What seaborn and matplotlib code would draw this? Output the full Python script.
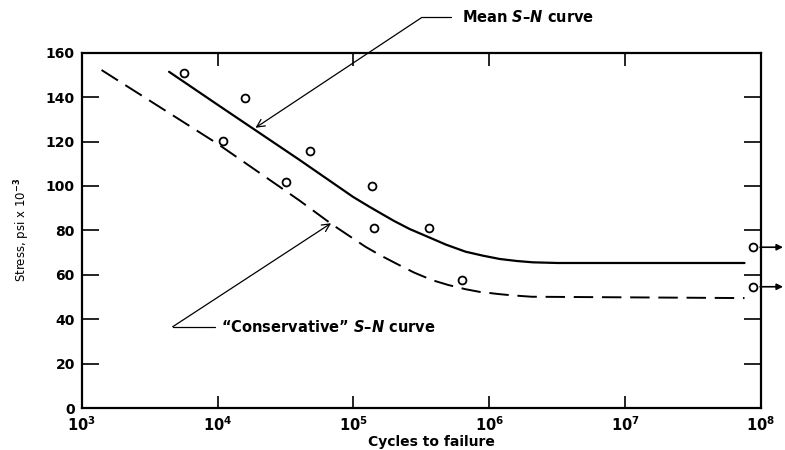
import matplotlib
matplotlib.use("Agg")
import matplotlib.pyplot as plt
import seaborn as sns
from matplotlib.ticker import FixedLocator, FixedFormatter, NullLocator

# ---- data ----
mean_cycles = [4.4e3, 1.0e4, 4.0e4, 1.0e5, 1.3e5, 1.6e5, 2.0e5, 2.6e5, 3.6e5, 4.8e5,
               6.7e5, 9.0e5, 1.2e6, 1.6e6, 2.1e6, 3.2e6, 7.6e7]
mean_stress = [151.4, 136.6, 111.8, 95.0, 90.8, 87.6, 84.2, 80.6, 76.9, 73.6,
               70.4, 68.6, 67.1, 66.2, 65.6, 65.3, 65.3]

cons_cycles = [1.4e3, 1.0e4, 4.0e4, 7.0e4, 1.23e5, 1.6e5, 2.17e5, 2.8e5, 3.8e5, 5.0e5,
               6.7e5, 8.5e5, 1.18e6, 1.5e6, 2.06e6, 7.6e7]
cons_stress = [152.2, 119.0, 93.5, 82.6, 72.6, 68.6, 64.4, 61.0, 57.6, 55.4,
               53.5, 52.3, 51.3, 50.7, 50.1, 49.5]

test_cycles = [5.7e3, 1.1e4, 1.6e4, 3.2e4, 4.8e4, 1.37e5, 1.42e5, 3.6e5, 6.3e5]
test_stress = [150.7, 120.4, 139.7, 101.9, 115.9, 100.1, 80.9, 81.2, 57.6]

runout_cycles = [8.8e7, 8.8e7]
runout_stress = [72.4, 54.6]

x_ticks = [1e3, 1e4, 1e5, 1e6, 1e7, 1e8]
x_tick_labels = [r"$\mathbf{10^{3}}$", r"$\mathbf{10^{4}}$", r"$\mathbf{10^{5}}$",
                 r"$\mathbf{10^{6}}$", r"$\mathbf{10^{7}}$", r"$\mathbf{10^{8}}$"]
y_ticks = [0, 20, 40, 60, 80, 100, 120, 140, 160]
y_tick_labels = ["0", "20", "40", "60", "80", "100", "120", "140", "160"]

sns.set_style("white")
plt.rcParams["font.family"] = ["DejaVu Sans"]
plt.rcParams["mathtext.fontset"] = "custom"
plt.rcParams["mathtext.it"] = "DejaVu Sans:italic:bold"
plt.rcParams["mathtext.rm"] = "DejaVu Sans:bold"
plt.rcParams["mathtext.bf"] = "DejaVu Sans:bold"
for k in ["text.color", "axes.labelcolor", "xtick.color", "ytick.color"]:
    plt.rcParams[k] = "black"

fig = plt.figure(figsize=(7.85, 4.5), dpi=100)
ax = fig.add_axes([81.7 / 785, 1 - 408 / 450, (760.7 - 81.7) / 785, (408 - 52.7) / 450])

sns.lineplot(x=mean_cycles, y=mean_stress, ax=ax, color="black", lw=1.6,
             sort=False, estimator=None)
sns.lineplot(x=cons_cycles, y=cons_stress, ax=ax, color="black", lw=1.4,
             linestyle=(0, (10, 4.5)), sort=False, estimator=None)
sns.scatterplot(x=test_cycles, y=test_stress, ax=ax, marker="o", s=32,
                facecolor="white", edgecolor="black", linewidth=1.3, zorder=5)
sns.scatterplot(x=runout_cycles, y=runout_stress, ax=ax, marker="o", s=32,
                facecolor="white", edgecolor="black", linewidth=1.3, zorder=5,
                clip_on=False)

ax.set_xscale("log")
ax.set_xlim(1e3, 1e8)
ax.set_ylim(0, 160)

ax.xaxis.set_major_locator(FixedLocator(x_ticks))
ax.xaxis.set_major_formatter(FixedFormatter(x_tick_labels))
ax.xaxis.set_minor_locator(NullLocator())
ax.yaxis.set_major_locator(FixedLocator(y_ticks))
ax.yaxis.set_major_formatter(FixedFormatter(y_tick_labels))

ax.tick_params(axis="x", which="major", direction="in", length=9, width=1.2,
               top=True, bottom=True, labelsize=10.5, pad=5.5, color="black",
               labelcolor="black")
ax.tick_params(axis="y", which="major", direction="in", length=12, width=1.2,
               left=True, right=True, labelsize=10, pad=5, color="black",
               labelcolor="black")
for lab in ax.get_xticklabels() + ax.get_yticklabels():
    lab.set_fontweight("bold")

for sp in ax.spines.values():
    sp.set_visible(True)
    sp.set_linewidth(1.6)
    sp.set_color("black")

ax.set_xlabel("Cycles to failure", fontsize=10, fontweight="bold")
ax.xaxis.set_label_coords(0.5155, -(441.7 - 408) / 355.3)
ax.xaxis.label.set_va("center")
ax.set_ylabel("Stress, psi x 10$^{-3}$", fontsize=8.5)
ax.yaxis.set_label_coords(-(81.7 - 22) / 679, 0.5)
ax.yaxis.label.set_va("center")

# runout arrows
for s in runout_stress:
    ax.annotate("", xy=(1.46e8, s), xytext=(9.9e7, s), xycoords="data",
                arrowprops=dict(arrowstyle="-|>", lw=1.2, color="black",
                                mutation_scale=9, shrinkA=0, shrinkB=0),
                annotation_clip=False)

# "Mean S-N curve" callout
ax.annotate("", xy=(1.905e4, 126.2), xytext=(3.2e5, 175.9),
            arrowprops=dict(arrowstyle="->", lw=0.9, color="black",
                            mutation_scale=14, shrinkA=0, shrinkB=0),
            annotation_clip=False)
ax.plot([3.2e5, 5.24e5], [175.9, 175.9], color="black", lw=0.9, clip_on=False)
ax.text(6.3e5, 175.9, r"Mean $S$–$N$ curve", fontsize=10.5, fontweight="bold",
        va="center", ha="left")

# "Conservative" callout
ax.annotate("", xy=(6.86e4, 83.2), xytext=(4.68e3, 36.6),
            arrowprops=dict(arrowstyle="->", lw=0.9, color="black",
                            mutation_scale=14, shrinkA=0, shrinkB=0))
ax.plot([4.68e3, 9.53e3], [36.6, 36.6], color="black", lw=0.9)
ax.text(1.07e4, 36.6, r"“Conservative” $S$–$N$ curve", fontsize=10.5,
        fontweight="bold", va="center", ha="left")

fig.savefig("out.png", dpi=100, facecolor="white")
